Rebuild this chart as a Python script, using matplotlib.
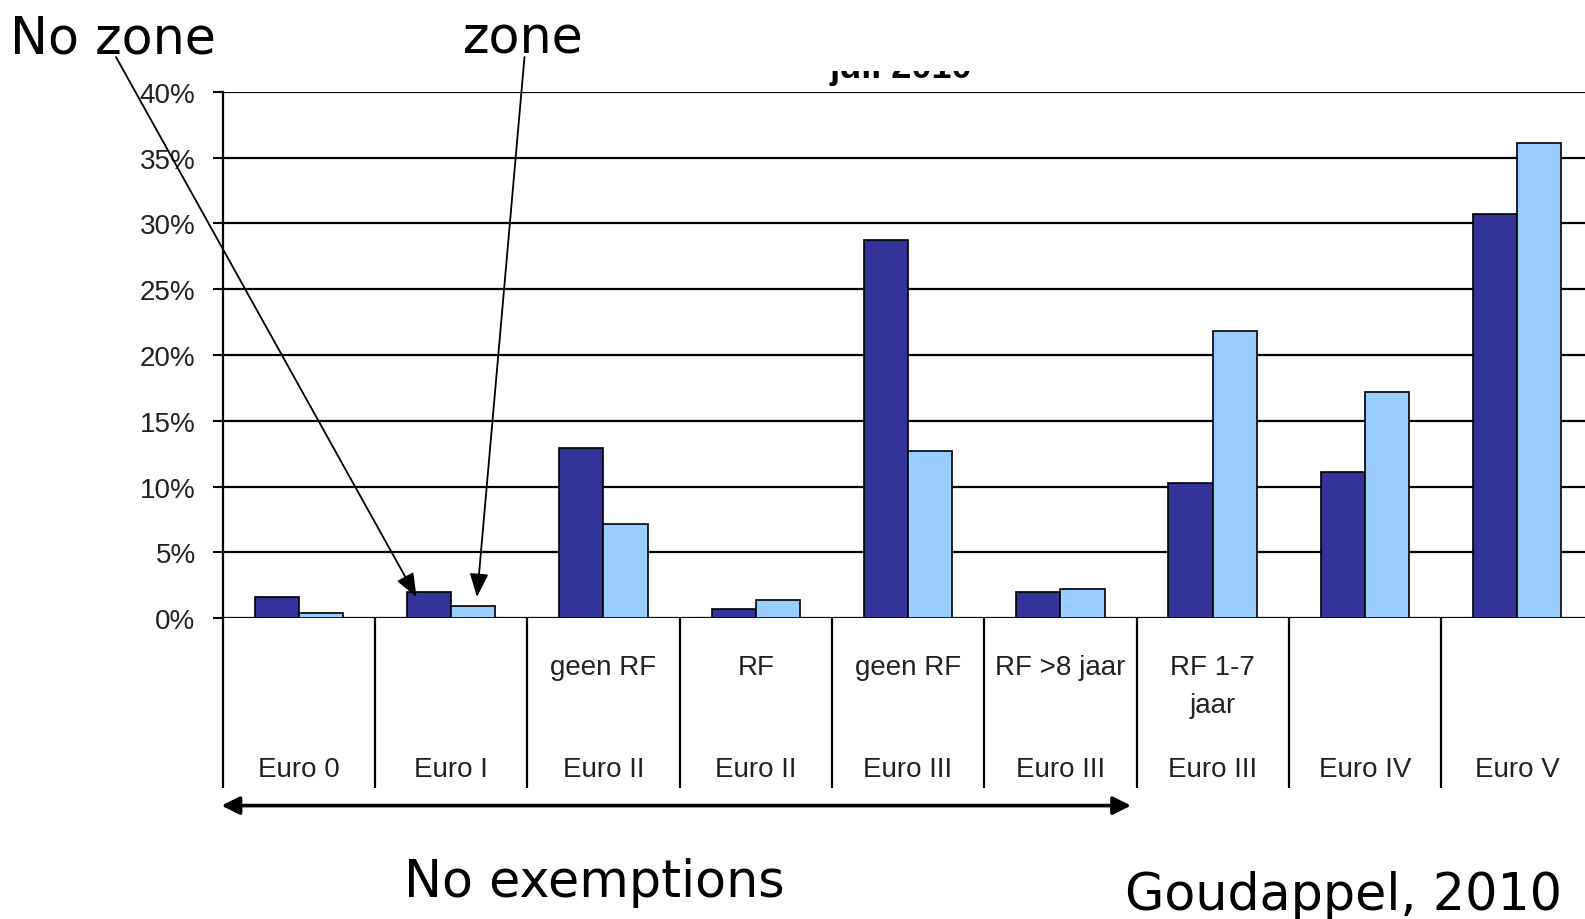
import matplotlib
matplotlib.use('Agg')
import matplotlib.pyplot as plt
import numpy as np
from matplotlib.patches import Rectangle

W, H = 1585, 920

labels_bottom = ['Euro 0', 'Euro I', 'Euro II', 'Euro II', 'Euro III',
                 'Euro III', 'Euro III', 'Euro IV', 'Euro V']
labels_top = ['', '', 'geen RF', 'RF', 'geen RF', 'RF >8 jaar',
              'RF 1-7\njaar', '', '']
no_zone = [1.6, 2.0, 12.9, 0.7, 28.7, 2.0, 10.3, 11.1, 30.7]
zone = [0.4, 0.9, 7.2, 1.4, 12.7, 2.2, 21.8, 17.2, 36.1]
y_ticks = [0, 5, 10, 15, 20, 25, 30, 35, 40]

DARK = '#333399'
LIGHT = '#99ccff'
TXT = '#222222'


def fx(x):
  return x / W


def fy(y):
  return 1 - y / H


# axes geometry in image pixels
left_px, cat_px = 222.7, 152.3
zero_px, top_px = 619.3, 92.7
px_per_pct = (zero_px - top_px) / 40


def pct(ypx):
  # pixel row below the plot -> data value
  return (zero_px - ypx) / px_per_pct


figure = plt.figure(figsize=(W / 100, H / 100), dpi=100)
axis = figure.add_axes([fx(left_px), fy(zero_px), (9 * cat_px) / W,
                        (zero_px - top_px) / H])

x = np.arange(len(labels_bottom)) + 0.5
width = 0.29
axis.bar(x - width / 2, no_zone, width, color=DARK, edgecolor='black',
         linewidth=1.2, zorder=3)
axis.bar(x + width / 2, zone, width, color=LIGHT, edgecolor='black',
         linewidth=1.2, zorder=3)

axis.set_xlim(0, 9)
axis.set_ylim(0, 40)
axis.set_yticks(y_ticks, [f'{t}%' for t in y_ticks])
axis.set_xticks([])
axis.tick_params(axis='y', direction='out', length=7.5, width=1.5,
                 pad=12, labelsize=20, labelcolor=TXT)
for lab in axis.get_yticklabels():
  lab.set_family('Liberation Sans')
axis.yaxis.grid(True, color='black', linewidth=1.6)
axis.set_axisbelow(True)
for s in ['top', 'right', 'bottom']:
  axis.spines[s].set_visible(False)
axis.spines['left'].set_linewidth(1.6)

# table below the plot
axis.vlines(np.arange(10), pct(789), 0, color='black', linewidth=1.6,
            clip_on=False)
for i, lab in enumerate(labels_bottom):
  axis.text(x[i], pct(776.7), lab, ha='center', va='baseline',
            fontsize=20, family='Liberation Sans', color=TXT,
            clip_on=False)
for i, lab in enumerate(labels_top):
  for j, line in enumerate(lab.split('\n')):
    if line:
      axis.text(x[i], pct(675.5 + 38 * j), line, ha='center',
                va='baseline', fontsize=20, family='Liberation Sans',
                color=TXT, clip_on=False)

# chart title, mostly hidden behind the slide
figure.text(fx(901), fy(78.5), 'juli 2010', ha='center', va='baseline',
            fontsize=26, fontweight='bold', family='Liberation Sans')
figure.patches.append(Rectangle((fx(780), fy(71.5)), fx(240), 71.5 / H,
                                transform=figure.transFigure,
                                facecolor='white', edgecolor='none',
                                zorder=10))

# slide annotations
big = dict(fontsize=36.5, family='DejaVu Sans', color='black')
figure.text(fx(10), fy(54), 'No zone', ha='left', va='baseline', **big)
figure.text(fx(463), fy(54), 'zone', ha='left', va='baseline', **big)
figure.text(fx(404), fy(897), 'No exemptions', ha='left', va='baseline',
            **big)
figure.text(fx(1125), fy(910), 'Goudappel, 2010', ha='left',
            va='baseline', **big)

arrow = dict(arrowstyle='-|>,head_length=0.8,head_width=0.32',
             color='black', lw=1.3, mutation_scale=18, shrinkA=0,
             shrinkB=0)
axis.annotate('', xy=(416.5, H - 598), xycoords='figure pixels',
              xytext=(116, H - 58), textcoords='figure pixels',
              arrowprops=arrow)
axis.annotate('', xy=(477, H - 598), xycoords='figure pixels',
              xytext=(524.5, H - 58), textcoords='figure pixels',
              arrowprops=arrow)
axis.annotate('', xy=(1131, H - 806.6), xycoords='figure pixels',
              xytext=(221.5, H - 806.6), textcoords='figure pixels',
              arrowprops=dict(arrowstyle='<|-|>,head_length=0.9,head_width=0.45',
                              color='black', lw=2.6, mutation_scale=12,
                              shrinkA=0, shrinkB=0))

figure.savefig('out.png', dpi=100)
